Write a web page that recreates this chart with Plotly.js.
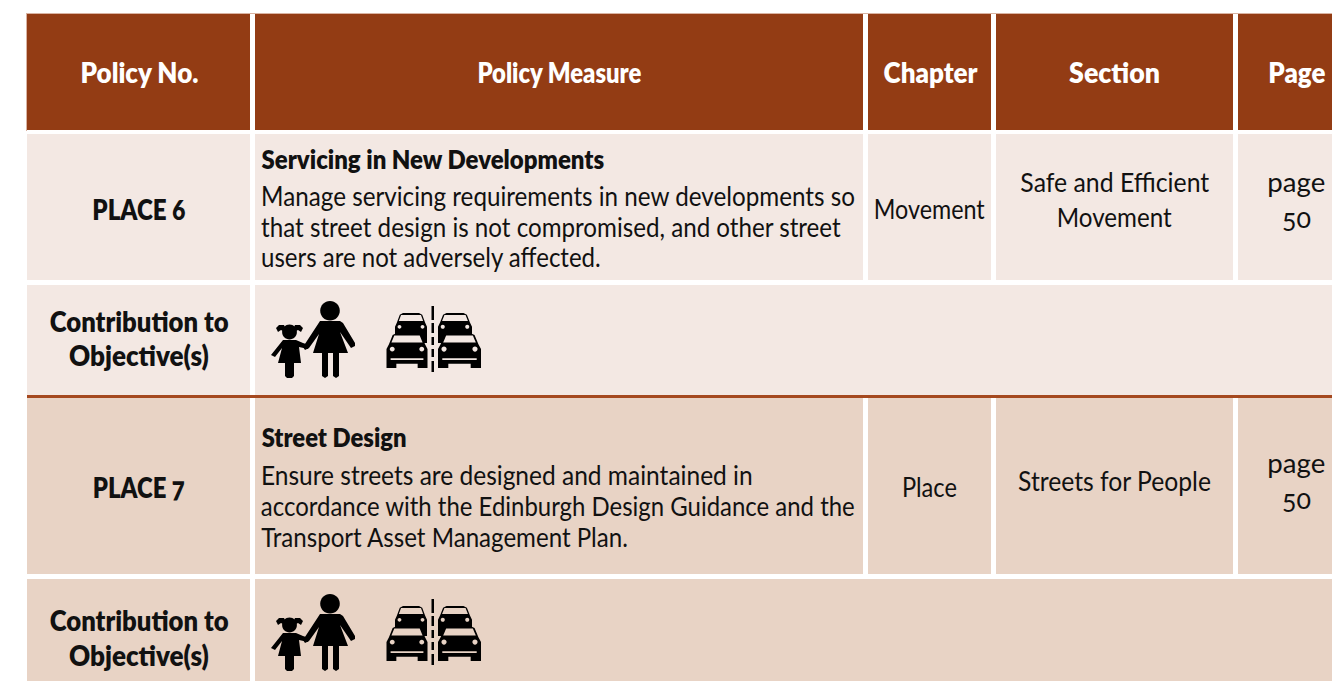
<!DOCTYPE html>
<html><head><meta charset="utf-8">
<script src="https://cdn.plot.ly/plotly-3.0.1.min.js"></script>
<style>html,body{margin:0;padding:0;background:#fff;overflow:hidden}
.annotation-text{font-variant-numeric:oldstyle-nums;font-feature-settings:"onum" 1}</style></head>
<body><div id="chart" style="width:1332px;height:681px"></div>
<script>
// ---- table content ----
const headers = ["Policy No.", "Policy Measure", "Chapter", "Section", "Page"];
const policyNumbers = ["PLACE 6", "PLACE 7"];
const policyTitles = ["Servicing in New Developments", "Street Design"];
const policyBodies = [
  ["Manage servicing requirements in new developments so", "that street design is not compromised, and other street", "users are not adversely affected."],
  ["Ensure streets are designed and maintained in", "accordance with the Edinburgh Design Guidance and the", "Transport Asset Management Plan."]
];
const chapters = ["Movement", "Place"];
const sections = [["Safe and Efficient", "Movement"], ["Streets for People"]];
const pages = [["page", "50"], ["page", "50"]];
const contributionLabel = ["Contribution to", "Objective(s)"];

// ---- layout geometry: horizontal extents of each text line ----
const headerSpan = [[80,198],[477,641],[883,977],[1069,1160],[1268,1325]];
const numberSpan = [[92,185],[93,185]];
const titleSpan = [[261,604],[261,406]];
const bodySpan = [[[261,855],[261,841],[261,601]],[[261,753],[261,855],[261,628]]];
const chapterSpan = [[874,985],[902,957]];
const sectionSpan = [[[1020,1209],[1057,1172]],[[1018,1211]]];
const pageSpan = [[1267,1325],[1282,1311]];
const contribSpan = [[49,228],[69,209]];

const colL = [27, 255, 868, 996, 1238];
const colR = [250, 863, 991, 1233, 1332];
const HEADER = "#933c14", LIGHT = "#f3e8e3", DARK = "#e8d3c5", RULE = "#a5491f", INK = "#111111";
const FONT = "Lato, sans-serif";
const BODY = 27, TEXT_SHIFT = -1.5;

const shapes = [], annotations = [], fitWidths = [];
function rect(x0, y0, x1, y1, c, layer) {
  shapes.push({type:"rect", xref:"x", yref:"y", x0, y0, x1, y1, fillcolor:c, line:{width:0}, layer:layer||"below"});
}
function path(d, c) {
  shapes.push({type:"path", xref:"x", yref:"y", path:d, fillcolor:c, line:{width:0}, layer:"above"});
}
function label(t, span, y, size, opts) {
  opts = opts || {};
  annotations.push({xref:"x", yref:"y", x:(span[0]+span[1])/2, y:y+TEXT_SHIFT, text:t, showarrow:false,
    xanchor:"center", yanchor:"middle", borderpad:0,
    font:{family:FONT, size, color:opts.color||INK, weight:opts.bold?800:400}});
  fitWidths.push(span[1]-span[0]);
}
function poly(pts, ox, oy){ return "M"+pts.map(p=>(p[0]+ox)+","+(p[1]+oy)).join(" L")+" Z"; }
function disc(cx, cy, r){
  const k = r*0.5523;
  return `M${cx-r},${cy} C${cx-r},${cy-k} ${cx-k},${cy-r} ${cx},${cy-r} C${cx+k},${cy-r} ${cx+r},${cy-k} ${cx+r},${cy} C${cx+r},${cy+k} ${cx+k},${cy+r} ${cx},${cy+r} C${cx-k},${cy+r} ${cx-r},${cy+k} ${cx-r},${cy} Z`;
}
function people(oy){
  const c = "#000000";
  path(disc(330, oy+20.7, 9.8), c);
  path(poly([[320,31],[340,31],[343,33],[355,53],[355,56],[351,58],[340,42],[348,63],[339,63],[339,86],[336,88],[333,86],[333,63],[328,63],[328,86],[325,88],[322,86],[322,63],[313,63],[319,44],[309,58],[305,60],[303,57]], 0, oy), c);
  path(disc(289.5, oy+42, 7.4), c);
  path(poly([[276,38],[279,35],[284,35],[286,39],[285,42],[281,40],[278,42]], 0, oy), c);
  path(poly([[303,38],[300,35],[295,35],[293,39],[294,42],[298,40],[301,42]], 0, oy), c);
  path(poly([[283,50],[296,50],[303,53],[309,55],[308,59],[299,57],[301,73],[294,73],[294,86],[292,88],[287,88],[285,86],[285,73],[278,73],[282,58],[275,67],[271,65]], 0, oy), c);
}
function car(cx, top, w, h, bg, back){
  const p = (u,v)=>[cx+u*w, top+v*h];
  const body = [p(-.5,1),p(-.5,.46),p(-.44,.32),p(-.35,.06),p(-.25,0),p(.25,0),p(.35,.06),p(.44,.32),p(.5,.46),p(.5,1),p(.26,1),p(.26,.88),p(-.26,.88),p(-.26,1)];
  path(poly(body,0,0), "#000000");
  path(poly([p(-.31,.07),p(.31,.07),p(.38,.27),p(-.38,.27)],0,0), bg);
  path(disc(cx-.36*w, top+.46*h, .06*w), bg);
  path(disc(cx+.36*w, top+.46*h, .06*w), bg);
  if(!back) path(poly([p(-.4,.72),p(.4,.72),p(.4,.77),p(-.4,.77)],0,0), bg);
}
function cars(oy, bg){
  car(411, oy+24, 32, 30, bg, true);
  car(455, oy+24, 34, 30, bg, true);
  car(407, oy+44, 41, 35, bg, false);
  car(459.5, oy+44, 43, 35, bg, false);
  [[17,31],[34,44],[48,56],[60,68],[72,83]].forEach(d=>rect(431.5, oy+d[0], 434, oy+d[1], "#000000", "above"));
}

// ---- header ----
rect(26,13,1332,14,"#d9b3a2");
rect(26,13,27,131,"#d9b3a2");
headers.forEach((h,i)=>{
  rect(colL[i],14,colR[i],130,HEADER);
  label(h, headerSpan[i], 73.5, 28, {bold:true, color:"#ffffff"});
});

// ---- rows ----
const rowTop=[134,398], rowBot=[280,574], contribTop=[285,579], contribBot=[395,681];
const rowMid=[209.5,488], fills=[LIGHT,DARK];
const titleY=[160,438], bodyY=[[197,228,258],[476,507,538]];
const secY=[[183,218],[482]], pageY=[[183,219],[464,500]];
const contribY=[[322,356],[621,656]];
[0,1].forEach(r=>{
  const f=fills[r];
  colL.forEach((l,i)=>rect(l,rowTop[r],colR[i],rowBot[r],f));
  rect(colL[0],contribTop[r],colR[0],contribBot[r],f);
  rect(colL[1],contribTop[r],1332,contribBot[r],f);
  label(policyNumbers[r], numberSpan[r], rowMid[r], 29, {bold:true});
  label(policyTitles[r], titleSpan[r], titleY[r], 26, {bold:true});
  policyBodies[r].forEach((t,k)=>label(t,bodySpan[r][k],bodyY[r][k],BODY));
  label(chapters[r], chapterSpan[r], rowMid[r], BODY);
  sections[r].forEach((t,k)=>label(t, sectionSpan[r][k], secY[r][k], BODY));
  pages[r].forEach((t,k)=>label(t, pageSpan[k], pageY[r][k], BODY));
  contributionLabel.forEach((t,k)=>label(t, contribSpan[k], contribY[r][k], 29, {bold:true}));
  people(r==0?290:583);
  cars(r==0?289:582, f);
});
rect(27,395,1332,398,RULE);

Plotly.newPlot("chart", [{type:"scatter", x:[], y:[], hoverinfo:"skip"}], {
  width:1332, height:681, margin:{l:0,r:0,t:0,b:0,pad:0},
  paper_bgcolor:"#ffffff", plot_bgcolor:"#ffffff", showlegend:false,
  xaxis:{range:[0,1332], visible:false, fixedrange:true},
  yaxis:{range:[681,0], visible:false, fixedrange:true},
  shapes, annotations
}, {staticPlot:true, displayModeBar:false}).then(gd=>{
  gd.querySelectorAll(".annotation").forEach(g=>{
    const i = +g.getAttribute("data-index");
    const t = g.querySelector("text.annotation-text");
    if(t && fitWidths[i]){
      // condense each line horizontally about its centre to its target width
      const natural = t.getComputedTextLength();
      const b = t.getBBox();
      const cx = b.x + b.width/2;
      const sx = fitWidths[i]/natural;
      t.setAttribute("transform", `translate(${cx},0) scale(${sx},1) translate(${-cx},0)`);
      g.querySelectorAll("rect").forEach(r=>r.remove());
    }
  });
});
</script></body></html>
